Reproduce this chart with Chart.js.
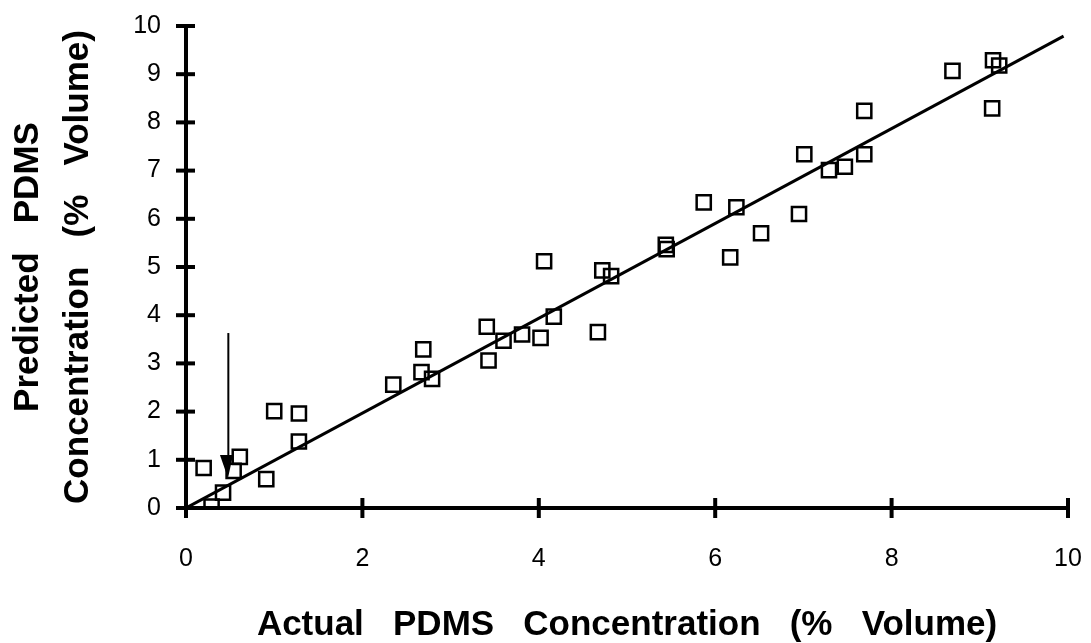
<!DOCTYPE html>
<html>
<head>
<meta charset="utf-8">
<script src="https://cdn.jsdelivr.net/npm/chart.js@4/dist/chart.umd.min.js"></script>
<style>
  html, body { margin: 0; padding: 0; background: #fff; }
  #wrap { width: 1091px; height: 643px; }
</style>
</head>
<body>
<div id="wrap"><canvas id="chart" width="1091" height="643"></canvas></div>
<script>
// 実測値と予測値 (% Volume)
const actual = [0.20, 0.29, 0.42, 0.54, 0.61, 0.91, 1.00, 1.28, 1.28, 2.35,
  2.69, 2.67, 2.79, 3.43, 3.41, 4.06, 3.60, 3.81, 4.02, 4.17,
  4.67, 4.72, 4.82, 5.44, 5.45, 5.87, 6.24, 6.17, 6.52, 6.95,
  7.01, 7.29, 7.47, 7.69, 7.69, 8.69, 9.15, 9.22, 9.14];
const predicted = [0.83, 0.03, 0.32, 0.77, 1.06, 0.60, 2.01, 1.96, 1.38, 2.56,
  3.29, 2.82, 2.68, 3.06, 3.76, 5.12, 3.47, 3.60, 3.53, 3.97,
  3.65, 4.93, 4.81, 5.46, 5.37, 6.34, 6.24, 5.20, 5.70, 6.10,
  7.34, 7.01, 7.08, 7.34, 8.24, 9.07, 9.29, 9.18, 8.29];

// 回帰直線の両端
const fitX = [0, 9.95];
const fitY = [0, 9.79];

// 矢印 (軸の値)
const arrowX = [0.48];
const arrowY = [3.63, 1.10, 0.62]; // 上端, 矢じりの根元, 先端
const arrowHeadX = [0.385, 0.533, 0.476]; // 左, 右, 先端

const xTickValues = [0, 2, 4, 6, 8, 10];
const yTickValues = [0, 1, 2, 3, 4, 5, 6, 7, 8, 9, 10];

const FONT = "'Liberation Sans', Arial, Helvetica, sans-serif";

// 軸をまたぐ目盛りと矢印を描く
const crossTicks = {
  id: "crossTicks",
  afterDatasetsDraw(chart) {
    const { ctx, scales: { x, y } } = chart;
    ctx.save();
    ctx.strokeStyle = "#000";
    ctx.lineWidth = 4;
    ctx.lineCap = "butt";
    xTickValues.forEach(v => {
      const px = x.getPixelForValue(v);
      ctx.beginPath();
      ctx.moveTo(px, y.bottom - 10);
      ctx.lineTo(px, y.bottom + 10);
      ctx.stroke();
    });
    yTickValues.forEach(v => {
      const py = y.getPixelForValue(v);
      ctx.beginPath();
      ctx.moveTo(x.left - 10, py);
      ctx.lineTo(x.left + 9, py);
      ctx.stroke();
    });

    // 矢印
    const ax = x.getPixelForValue(arrowX[0]);
    ctx.lineWidth = 2;
    ctx.beginPath();
    ctx.moveTo(ax, y.getPixelForValue(arrowY[0]));
    ctx.lineTo(ax, y.getPixelForValue(arrowY[1]));
    ctx.stroke();
    ctx.fillStyle = "#000";
    ctx.beginPath();
    ctx.moveTo(x.getPixelForValue(arrowHeadX[0]), y.getPixelForValue(arrowY[1]));
    ctx.lineTo(x.getPixelForValue(arrowHeadX[1]), y.getPixelForValue(arrowY[1]));
    ctx.lineTo(x.getPixelForValue(arrowHeadX[2]), y.getPixelForValue(arrowY[2]));
    ctx.closePath();
    ctx.fill();
    ctx.restore();
  }
};

const points = actual.map((v, i) => ({ x: v, y: predicted[i] }));
const fitLine = fitX.map((v, i) => ({ x: v, y: fitY[i] }));

new Chart(document.getElementById("chart"), {
  type: "scatter",
  data: {
    datasets: [
      {
        label: "Fit",
        type: "line",
        data: fitLine,
        borderColor: "#000",
        borderWidth: 3,
        pointRadius: 0,
        fill: false,
      },
      {
        label: "Samples",
        data: points,
        pointStyle: "rect",
        pointRadius: 10,
        pointBorderWidth: 2.5,
        borderColor: "#000",
        backgroundColor: "rgba(255,255,255,0)",
      },
    ]
  },
  options: {
    responsive: false,
    animation: false,
    layout: { autoPadding: false, padding: { top: 26, right: 23, left: 0, bottom: 0 } },
    plugins: {
      legend: { display: false },
      tooltip: { enabled: false },
    },
    scales: {
      x: {
        type: "linear",
        min: 0,
        max: 10,
        afterFit: s => { s.height = 135; },
        afterBuildTicks: s => { s.ticks = xTickValues.map(v => ({ value: v })); },
        // 目盛り線は自前で描くので grid は隠し、tickLength はラベル位置にだけ使う
        grid: { display: false, drawTicks: true, tickLength: 34 },
        border: { display: true, color: "#000", width: 4 },
        ticks: {
          color: "#000",
          padding: 2,
          maxRotation: 0,
          font: { family: FONT, size: 25 },
        },
        title: {
          display: true,
          text: "Actual   PDMS   Concentration   (%   Volume)",
          color: "#000",
          padding: 0,
          font: { family: FONT, size: 35, weight: "bold", lineHeight: 1 },
        },
      },
      y: {
        type: "linear",
        min: 0,
        max: 10,
        afterFit: s => { s.width = 186; },
        afterBuildTicks: s => { s.ticks = yTickValues.map(v => ({ value: v })); },
        grid: { display: false, drawTicks: true, tickLength: 23 },
        border: { display: true, color: "#000", width: 4 },
        ticks: {
          color: "#000",
          padding: 2,
          font: { family: FONT, size: 25 },
        },
        title: {
          display: true,
          text: ["Predicted   PDMS", "Concentration   (%   Volume)"],
          color: "#000",
          padding: { top: 3, bottom: 0 },
          font: { family: FONT, size: 35, weight: "bold", lineHeight: 1.43 },
        },
      },
    },
  },
  plugins: [crossTicks],
});
</script>
</body>
</html>
